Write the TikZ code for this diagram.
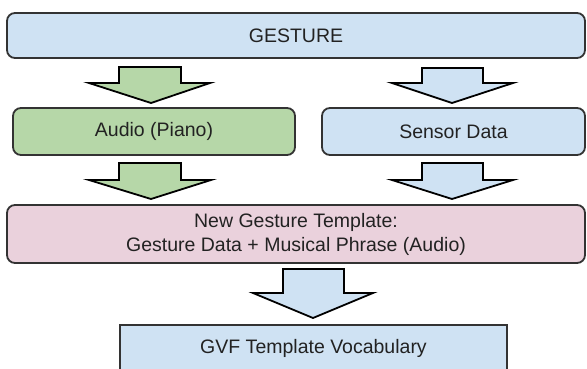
\documentclass[tikz,border=0pt]{standalone}
\usepackage{fontspec}
\setmainfont{Liberation Sans}
\usepackage{xcolor}
\usetikzlibrary{positioning}

\definecolor{bluefill}{HTML}{CFE2F3}
\definecolor{greenfill}{HTML}{B6D7A8}
\definecolor{pinkfill}{HTML}{EAD1DC}
\definecolor{edgegray}{HTML}{333333}
\definecolor{textgray}{HTML}{222222}

\tikzset{
  box/.style={draw=edgegray, line width=1.8pt, rounded corners=8pt,
    align=center, text=textgray, inner sep=0pt,
    font=\fontsize{19.5}{24}\selectfont},
  blockarrow/.style={draw=black, line width=1.8pt, line join=miter}
}

\begin{document}
\begin{tikzpicture}[x=1pt, y=-1pt]
            % picture size
            \useasboundingbox (0,0) rectangle (587,369);
            \clip (0,0) rectangle (587,369);
            % boxes
            \node (gesture) [box, fill=bluefill, minimum width=578pt, minimum height=45pt]
                  at (296,35.5) {GESTURE};
            \node (audio) [box, fill=greenfill, minimum width=282pt, minimum height=47pt]
                  at (154,131.5) {Audio (Piano)};
            \node (sensor) [box, fill=bluefill, minimum width=263pt, minimum height=47pt]
                  at (453.5,131.5) {Sensor Data};
            \node (template) [box, fill=pinkfill, minimum width=578pt, minimum height=58pt]
                  at (296,234) {New Gesture Template:\\ Gesture Data + Musical Phrase (Audio)};
            \node (vocab) [box, fill=bluefill, rounded corners=0pt, minimum width=387pt, minimum height=46pt]
                  at (313.5,348) {GVF Template Vocabulary};
            % green arrows
            \draw[blockarrow, fill=greenfill] (119,67) -- (181,67) -- (181,83) -- (210,83)
                  -- (151,103) -- (89,83) -- (119,83) -- cycle;
            \draw[blockarrow, fill=greenfill] (119,163) -- (181,163) -- (181,180) -- (211,180)
                  -- (151,199) -- (89,180) -- (119,180) -- cycle;
            % blue arrows
            \draw[blockarrow, fill=bluefill] (422,68) -- (483,68) -- (483,83) -- (513,83)
                  -- (452,103) -- (392,83) -- (422,83) -- cycle;
            \draw[blockarrow, fill=bluefill] (422,163) -- (483,163) -- (483,180) -- (513,180)
                  -- (452,199) -- (392,180) -- (422,180) -- cycle;
            \draw[blockarrow, fill=bluefill] (283,269) -- (344,269) -- (344,293) -- (373,293)
                  -- (313,318) -- (253,293) -- (283,293) -- cycle;
          \end{tikzpicture}
\end{document}
